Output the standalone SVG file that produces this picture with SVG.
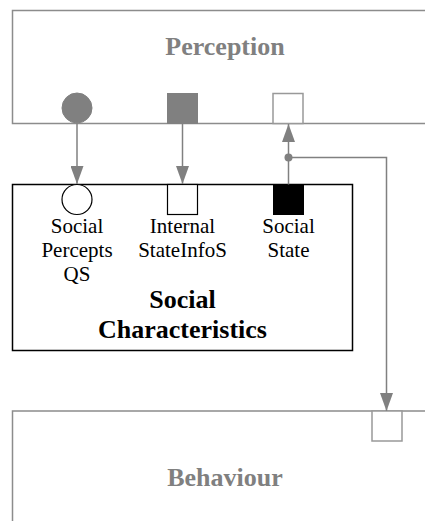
<svg xmlns="http://www.w3.org/2000/svg" width="425" height="521" viewBox="0 0 425 521">
  <defs>
    <marker id="arrow" viewBox="0 0 18 13" refX="18" refY="6.5" markerWidth="18" markerHeight="13" markerUnits="userSpaceOnUse" orient="auto">
      <path d="M0,0 L18,6.5 L0,13 Z" fill="#808080"/>
    </marker>
    <style>
      text { font-family: 'Liberation Serif', 'DejaVu Serif', serif; }
      .layer { fill: #ffffff; stroke: #8c8c8c; stroke-width: 1.5; }
      .layer-title { font-size: 26px; font-weight: bold; fill: #808080; text-anchor: middle; }
      .port-grey { fill: #808080; stroke: #808080; stroke-width: 1; }
      .port-open-grey { fill: #ffffff; stroke: #999999; stroke-width: 1.5; }
      .port-open { fill: #ffffff; stroke: #000000; stroke-width: 1.2; }
      .port-black { fill: #000000; stroke: #000000; stroke-width: 1; }
      .module { fill: #ffffff; stroke: #000000; stroke-width: 1.5; }
      .label { font-size: 21px; fill: #000000; text-anchor: middle; }
      .module-title { font-size: 26px; font-weight: bold; fill: #000000; text-anchor: middle; }
      .wire { fill: none; stroke: #808080; stroke-width: 1.5; }
    </style>
  </defs>

  <!-- Perception layer (open on the right) -->
  <g id="perception">
    <path class="layer" d="M425,10.5 H12.5 V123.5 H425"/>
    <text class="layer-title" x="225" y="55">Perception</text>
    <circle class="port-grey" cx="77" cy="108" r="15"/>
    <rect class="port-grey" x="167.5" y="93.5" width="30" height="30"/>
    <rect class="port-open-grey" x="273" y="93.5" width="30" height="30"/>
  </g>

  <!-- Behaviour layer (open on the right and bottom) -->
  <g id="behaviour">
    <path class="layer" d="M425,411 H12.5 V521"/>
    <text class="layer-title" x="225" y="486">Behaviour</text>
    <rect class="port-open-grey" x="372" y="411" width="30" height="30"/>
  </g>

  <!-- Social Characteristics module -->
  <g id="social-characteristics">
    <rect class="module" x="12.5" y="184.5" width="340" height="166"/>
    <circle class="port-open" cx="77" cy="199.5" r="15"/>
    <rect class="port-open" x="167.5" y="184.5" width="30" height="30"/>
    <rect class="port-black" x="273.5" y="184.5" width="30" height="30"/>
    <text class="label" x="77" y="232.5">Social</text>
    <text class="label" x="77" y="256.5">Percepts</text>
    <text class="label" x="77" y="280.5">QS</text>
    <text class="label" x="182.5" y="232.5">Internal</text>
    <text class="label" x="182.5" y="256.5">StateInfoS</text>
    <text class="label" x="288.5" y="232.5">Social</text>
    <text class="label" x="288.5" y="256.5">State</text>
    <text class="module-title" x="182.5" y="308">Social</text>
    <text class="module-title" x="182.5" y="338">Characteristics</text>
  </g>

  <!-- Connectors -->
  <g id="connectors">
    <line class="wire" x1="77" y1="123.5" x2="77" y2="184" marker-end="url(#arrow)"/>
    <line class="wire" x1="182.5" y1="123.5" x2="182.5" y2="184" marker-end="url(#arrow)"/>
    <line class="wire" x1="288.5" y1="184.5" x2="288.5" y2="124" marker-end="url(#arrow)"/>
    <polyline class="wire" points="288.5,157.5 386.5,157.5 386.5,411" marker-end="url(#arrow)"/>
    <circle cx="288.5" cy="157.5" r="4" fill="#808080"/>
  </g>
</svg>
